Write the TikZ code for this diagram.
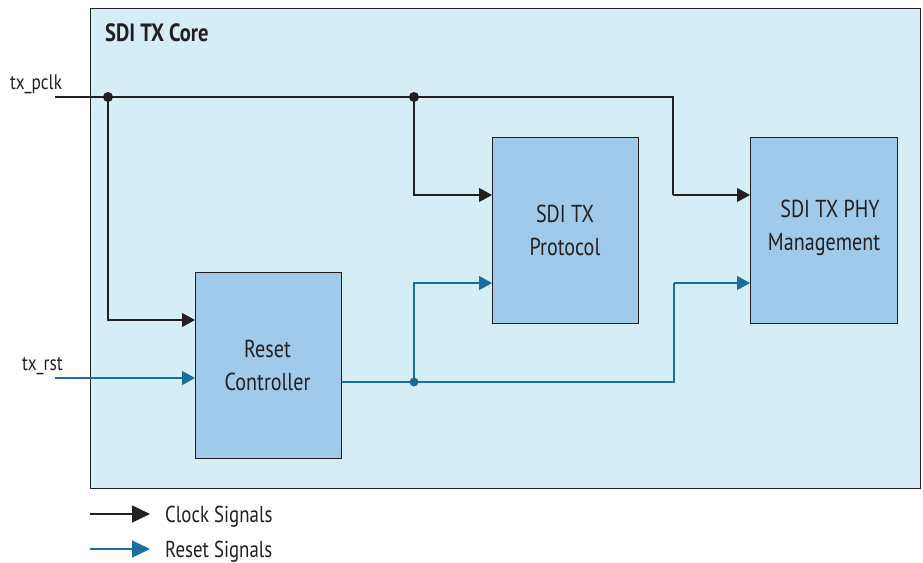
\documentclass[tikz,border=0pt]{standalone}
\usepackage{fontspec}
\setmainfont[FakeStretch=0.82]{PT Sans}
\usetikzlibrary{arrows.meta}
\definecolor{corebg}{HTML}{D5EDF4}
\definecolor{blockbg}{HTML}{A0C9EA}
\definecolor{rstblue}{HTML}{1A6E9E}
\definecolor{clkblack}{HTML}{231F20}
\tikzset{
  block/.style={draw=clkblack, line width=0.9pt, fill=blockbg, minimum width=146pt, minimum height=186pt, anchor=north west, inner sep=0pt},
  clk/.style={draw=clkblack, line width=1.2pt, -{Triangle[length=13pt,width=14pt]}},
  rst/.style={draw=rstblue, line width=1.4pt, -{Triangle[length=13pt,width=14pt]}, color=rstblue},
  lbl/.style={font=\fontsize{24.5}{33}\selectfont, align=center, text=clkblack},
  sig/.style={font=\fontsize{21}{24}\selectfont, text=clkblack, anchor=base west, inner sep=0pt},
  dotb/.style={circle, fill=clkblack, inner sep=0pt, minimum size=10pt},
  dotr/.style={circle, fill=rstblue, inner sep=0pt, minimum size=9pt},
}
\begin{document}
\begin{tikzpicture}[x=1pt,y=-1pt]
\useasboundingbox (0,0) rectangle (923,562);
\node[draw=clkblack, line width=1pt, fill=corebg, anchor=north west, minimum width=830pt, minimum height=480pt, inner sep=0pt] (core) at (90,8) {};
\node[font=\fontsize{25}{28}\selectfont\bfseries, anchor=base west, inner sep=0pt, text=clkblack] (title) at (105,41) {SDI TX Core};

\node[block] (rc) at (195,272) {};
\node[lbl] (rctext) at (267.5,365) {Reset\\Controller};
\node[block, minimum width=146pt] (prot) at (492,137) {};
\node[lbl] (prottext) at (565,230) {SDI TX\\Protocol};
\node[block, minimum width=147pt] (phy) at (750,137) {};
\node[lbl] (phytext) at (824,228) {\hspace{12pt}SDI TX PHY\\Management};

\node[sig] (pclk) at (10,89) {tx\_pclk};
\node[sig] (rst) at (22,370) {tx\_rst};
\coordinate (pclkin) at (55,97);
\coordinate (rstin) at (55,378);

\node[dotb] (d1) at (108,97) {};
\node[dotb] (d2) at (414,97) {};
\node[dotr] (d3) at (414,382) {};

% clock
\draw[clkblack, line width=1.2pt] (pclkin) -- (d1.center) -- (d2.center) -- (673,97) -- (673,195);
\draw[clk] (673,195) -- (phy.west |- 0,195);
\draw[clk] (d2.center) -- (414,195) -- (prot.west |- 0,195);
\draw[clk] (d1.center) -- (108,320) -- (rc.west |- 0,320);

% reset
\draw[rst] (rstin) -- (rc.west |- rstin);
\draw[rstblue, line width=1.4pt] (rc.east |- 0,382) -- (d3.center) -- (674,382) -- (674,283);
\draw[rst] (d3.center) -- (414,283) -- (prot.west |- 0,283);
\draw[rst] (674,283) -- (phy.west |- 0,283);

% legend
\coordinate (l1a) at (90,514);
\coordinate (l1b) at (150,514);
\coordinate (l2a) at (90,549);
\coordinate (l2b) at (150,549);
\draw[clkblack, line width=1.2pt, -{Triangle[length=18pt,width=17pt]}] (l1a) -- (l1b);
\draw[rstblue, line width=1.4pt, -{Triangle[length=18pt,width=17pt]}] (l2a) -- (l2b);
\node[sig, font=\fontsize{23}{26}\selectfont] (lclk) at (165,522) {Clock Signals};
\node[sig, font=\fontsize{23}{26}\selectfont] (lrst) at (165,557) {Reset Signals};
\end{tikzpicture}
\end{document}
